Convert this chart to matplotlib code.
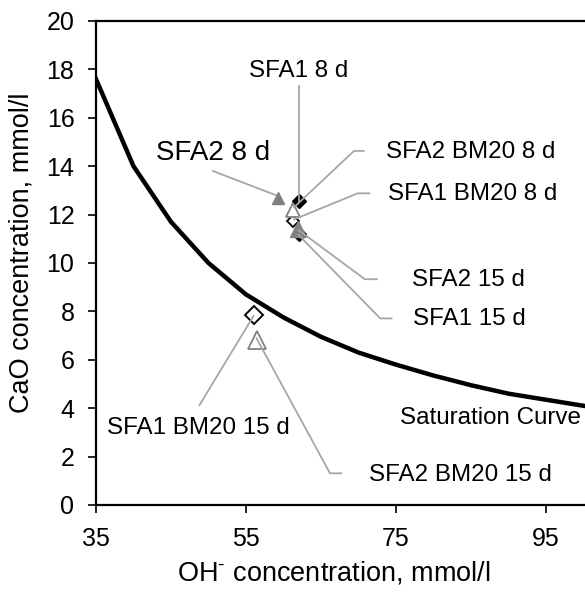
import numpy as np
import matplotlib
matplotlib.use("Agg")
import matplotlib.pyplot as plt

plt.rcParams['font.family'] = ['Liberation Sans', 'DejaVu Sans']
plt.rcParams['mathtext.fontset'] = 'custom'
plt.rcParams['mathtext.rm'] = 'Liberation Sans'

# saturation curve (every 5 mmol/l)
curve_x = [35, 40, 45, 50, 55, 60, 65, 70, 75, 80, 85, 90, 95, 100]
curve_y = [17.6, 14.0, 11.7, 10.0, 8.7, 7.75, 6.95, 6.3, 5.8, 5.35, 4.95, 4.6, 4.35, 4.1]

# measured points, in the drawing order of the original series
names = ["SFA1 8 d", "SFA1 15 d", "SFA1 BM20 8 d", "SFA1 BM20 15 d",
         "SFA2 8 d", "SFA2 15 d", "SFA2 BM20 8 d", "SFA2 BM20 15 d"]
oh = [62.0, 62.1, 61.2, 56.0, 59.3, 61.9, 61.3, 56.4]
cao = [12.55, 11.2, 11.72, 7.85, 12.67, 11.4, 12.2, 6.82]

# label text position and leader line vertices (data units)
label_pos = {
    "SFA1 8 d": (62.0, 17.95, 'center'),
    "SFA2 8 d": (50.6, 14.55, 'center'),
    "SFA2 BM20 8 d": (73.7, 14.6, 'left'),
    "SFA1 BM20 8 d": (73.9, 12.85, 'left'),
    "SFA2 15 d": (77.1, 9.3, 'left'),
    "SFA1 15 d": (77.3, 7.7, 'left'),
    "SFA1 BM20 15 d": (36.5, 3.2, 'left'),
    "SFA2 BM20 15 d": (71.45, 1.25, 'left'),
}
leaders = {
    "SFA1 8 d": [(62.0, 17.3), (62.0, 12.55)],
    "SFA2 8 d": [(50.6, 13.8), (59.0, 12.8)],
    "SFA2 BM20 8 d": [(70.7, 14.63), (69.4, 14.63), (61.4, 12.3)],
    "SFA1 BM20 8 d": [(71.45, 12.88), (69.9, 12.88), (61.4, 11.8)],
    "SFA2 15 d": [(72.45, 9.33), (70.85, 9.33), (62.0, 11.36)],
    "SFA1 15 d": [(74.4, 7.71), (72.9, 7.71), (62.0, 11.16)],
    "SFA1 BM20 15 d": [(48.8, 4.13), (56.0, 7.81)],
    "SFA2 BM20 15 d": [(67.7, 1.31), (66.2, 1.31), (56.4, 6.89)],
}

styles = {
    "SFA1 8 d": dict(marker='D', ms=6.8, mfc='black', mec='black'),
    "SFA1 15 d": dict(marker='D', ms=7.0, mfc='black', mec='black'),
    "SFA1 BM20 8 d": dict(marker='D', ms=6.2, mfc='white', mec='black', mew=1.3),
    "SFA1 BM20 15 d": dict(marker='D', ms=8.8, mfc='white', mec='black', mew=1.4),
    "SFA2 8 d": dict(marker='^', ms=9.0, mfc='#808080', mec='#808080'),
    "SFA2 15 d": dict(marker='^', ms=11.5, mfc='#808080', mec='#808080'),
    "SFA2 BM20 8 d": dict(marker='^', ms=9.5, mfc='white', mec='#808080', mew=1.3),
    "SFA2 BM20 15 d": dict(marker='^', ms=13.5, mfc='white', mec='#808080', mew=1.3),
}

fig = plt.figure(figsize=(5.85, 5.92), dpi=100)
ax = fig.add_axes([96/585, 1-505/592, (585-96)/585, (505-21)/592])

ax.plot(curve_x, curve_y, color='black', lw=3.2, solid_joinstyle='miter', zorder=2)

for n, x, y in zip(names, oh, cao):
    ax.plot([x], [y], linestyle='none', zorder=3, **styles[n])

for n in names:
    pts = np.array(leaders[n])
    ax.plot(pts[:, 0], pts[:, 1], color='#a6a6a6', lw=1.3, zorder=4)
    tx, ty, ha = label_pos[n]
    fs = 20 if n == "SFA2 8 d" else 17.4
    ax.text(tx, ty, n, ha=ha, va='center', fontsize=fs, color='black', zorder=5)

ax.text(75.5, 3.58, "Saturation Curve", ha='left', va='center', fontsize=17.4)

ax.set_xlim(35, 35 + (585-96)/7.5)
ax.set_ylim(0, 20)
ax.set_xticks([35, 55, 75, 95])
ax.set_yticks(np.arange(0, 21, 2))
ax.tick_params(direction='out', length=5.5, width=1.2, labelsize=18, colors='black')
ax.tick_params(axis='x', pad=10.5)
ax.tick_params(axis='y', pad=10)
for s in ['left', 'bottom', 'top']:
    ax.spines[s].set_linewidth(1.6)
    ax.spines[s].set_color('black')
ax.spines['right'].set_visible(False)

fig.text(0.571, 0.032, r'OH$^{\text{-}}$ concentration, mmol/l', ha='center', va='center', fontsize=19.5)
fig.text(0.036, 0.573, 'CaO concentration, mmol/l', ha='center', va='center',
         rotation=90, fontsize=19.5)

fig.savefig('out.png', dpi=100)
